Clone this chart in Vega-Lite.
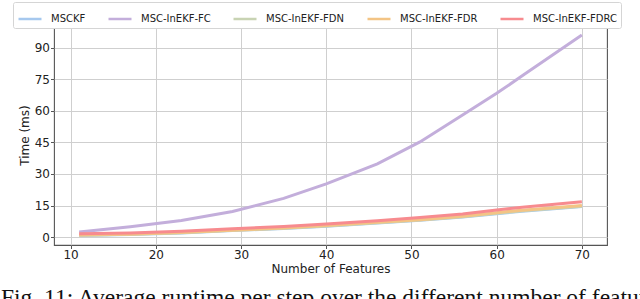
{
  "$schema": "https://vega.github.io/schema/vega-lite/v6.json",
  "autosize": {"type": "none"},
  "width": 553,
  "height": 220,
  "padding": {"left": 54, "top": 25, "right": 33, "bottom": 54},
  "background": "white",
  "config": {
    "font": "DejaVu Sans",
    "view": {"stroke": "#555555", "strokeWidth": 1.1},
    "axis": {
      "domain": false,
      "grid": true,
      "gridColor": "#cfcfcf",
      "gridWidth": 1,
      "tickColor": "#555555",
      "tickSize": 3.5,
      "labelFontSize": 12,
      "labelColor": "#222222",
      "labelPadding": 1,
      "titleFontSize": 12,
      "titleFontWeight": "normal",
      "titleColor": "#222222"
    }
  },
  "title": {
    "text": "Fig. 11: Average runtime per step over the different number of features",
    "orient": "bottom",
    "anchor": "start",
    "frame": "group",
    "font": "Liberation Serif",
    "fontSize": 23.5,
    "fontWeight": "normal",
    "color": "#111111",
    "baseline": "alphabetic",
    "offset": 30,
    "dx": -53
  },
  "data": {
    "values": [
      {"n": 11, "t": 0.8, "s": "MSCKF"}, {"n": 17, "t": 1.2, "s": "MSCKF"}, {"n": 23, "t": 2.0, "s": "MSCKF"}, {"n": 29, "t": 3.1, "s": "MSCKF"}, {"n": 35, "t": 4.1, "s": "MSCKF"}, {"n": 40, "t": 5.2, "s": "MSCKF"}, {"n": 46, "t": 6.7, "s": "MSCKF"}, {"n": 51, "t": 8.0, "s": "MSCKF"}, {"n": 56, "t": 9.5, "s": "MSCKF"}, {"n": 60, "t": 11.1, "s": "MSCKF"}, {"n": 63, "t": 12.3, "s": "MSCKF"}, {"n": 70, "t": 14.5, "s": "MSCKF"},
      {"n": 11, "t": 2.4, "s": "MSC-InEKF-FC"}, {"n": 17, "t": 4.9, "s": "MSC-InEKF-FC"}, {"n": 23, "t": 7.9, "s": "MSC-InEKF-FC"}, {"n": 29, "t": 12.2, "s": "MSC-InEKF-FC"}, {"n": 35, "t": 18.4, "s": "MSC-InEKF-FC"}, {"n": 40, "t": 25.3, "s": "MSC-InEKF-FC"}, {"n": 46, "t": 34.8, "s": "MSC-InEKF-FC"}, {"n": 51, "t": 45.2, "s": "MSC-InEKF-FC"}, {"n": 56, "t": 58.0, "s": "MSC-InEKF-FC"}, {"n": 60, "t": 68.3, "s": "MSC-InEKF-FC"}, {"n": 63, "t": 76.6, "s": "MSC-InEKF-FC"}, {"n": 70, "t": 96.0, "s": "MSC-InEKF-FC"},
      {"n": 11, "t": 0.9, "s": "MSC-InEKF-FDN"}, {"n": 17, "t": 1.3, "s": "MSC-InEKF-FDN"}, {"n": 23, "t": 2.1, "s": "MSC-InEKF-FDN"}, {"n": 29, "t": 3.2, "s": "MSC-InEKF-FDN"}, {"n": 35, "t": 4.2, "s": "MSC-InEKF-FDN"}, {"n": 40, "t": 5.3, "s": "MSC-InEKF-FDN"}, {"n": 46, "t": 6.8, "s": "MSC-InEKF-FDN"}, {"n": 51, "t": 8.1, "s": "MSC-InEKF-FDN"}, {"n": 56, "t": 9.7, "s": "MSC-InEKF-FDN"}, {"n": 60, "t": 11.3, "s": "MSC-InEKF-FDN"}, {"n": 63, "t": 12.5, "s": "MSC-InEKF-FDN"}, {"n": 70, "t": 14.7, "s": "MSC-InEKF-FDN"},
      {"n": 11, "t": 1.0, "s": "MSC-InEKF-FDR"}, {"n": 17, "t": 1.4, "s": "MSC-InEKF-FDR"}, {"n": 23, "t": 2.2, "s": "MSC-InEKF-FDR"}, {"n": 29, "t": 3.3, "s": "MSC-InEKF-FDR"}, {"n": 35, "t": 4.3, "s": "MSC-InEKF-FDR"}, {"n": 40, "t": 5.5, "s": "MSC-InEKF-FDR"}, {"n": 46, "t": 7.0, "s": "MSC-InEKF-FDR"}, {"n": 51, "t": 8.3, "s": "MSC-InEKF-FDR"}, {"n": 56, "t": 9.9, "s": "MSC-InEKF-FDR"}, {"n": 60, "t": 11.6, "s": "MSC-InEKF-FDR"}, {"n": 63, "t": 12.8, "s": "MSC-InEKF-FDR"}, {"n": 70, "t": 15.0, "s": "MSC-InEKF-FDR"},
      {"n": 11, "t": 1.6, "s": "MSC-InEKF-FDRC"}, {"n": 17, "t": 2.0, "s": "MSC-InEKF-FDRC"}, {"n": 23, "t": 2.8, "s": "MSC-InEKF-FDRC"}, {"n": 29, "t": 4.0, "s": "MSC-InEKF-FDRC"}, {"n": 35, "t": 5.0, "s": "MSC-InEKF-FDRC"}, {"n": 40, "t": 6.2, "s": "MSC-InEKF-FDRC"}, {"n": 46, "t": 7.8, "s": "MSC-InEKF-FDRC"}, {"n": 51, "t": 9.3, "s": "MSC-InEKF-FDRC"}, {"n": 56, "t": 11.0, "s": "MSC-InEKF-FDRC"}, {"n": 60, "t": 12.9, "s": "MSC-InEKF-FDRC"}, {"n": 63, "t": 14.2, "s": "MSC-InEKF-FDRC"}, {"n": 70, "t": 16.8, "s": "MSC-InEKF-FDRC"}
    ]
  },
  "mark": {"type": "line", "strokeWidth": 3, "clip": true},
  "encoding": {
    "x": {
      "field": "n", "type": "quantitative", "title": "Number of Features",
      "scale": {"domain": [8.05, 72.95], "nice": false, "zero": false},
      "axis": {"values": [10, 20, 30, 40, 50, 60, 70], "titlePadding": 3}
    },
    "y": {
      "field": "t", "type": "quantitative", "title": "Time (ms)",
      "scale": {"domain": [-3.75, 100.75], "nice": false, "zero": false},
      "axis": {"values": [0, 15, 30, 45, 60, 75, 90], "titlePadding": 3}
    },
    "color": {
      "field": "s", "type": "nominal",
      "scale": {
        "domain": ["MSCKF", "MSC-InEKF-FC", "MSC-InEKF-FDN", "MSC-InEKF-FDR", "MSC-InEKF-FDRC"],
        "range": ["#a6c8ee", "#c3aedb", "#c8d3b3", "#f3c485", "#f78b8f"]
      },
      "legend": {
        "title": null,
        "orient": "none",
        "direction": "horizontal",
        "legendX": -41,
        "legendY": -23,
        "symbolType": "stroke",
        "symbolSize": 529,
        "symbolStrokeWidth": 2.5,
        "labelOffset": 8,
        "columnPadding": 17,
        "labelFontSize": 10,
        "labelColor": "#222222",
        "padding": 4,
        "strokeColor": "#d5d5d5",
        "fillColor": "white",
        "cornerRadius": 2
      }
    }
  }
}
